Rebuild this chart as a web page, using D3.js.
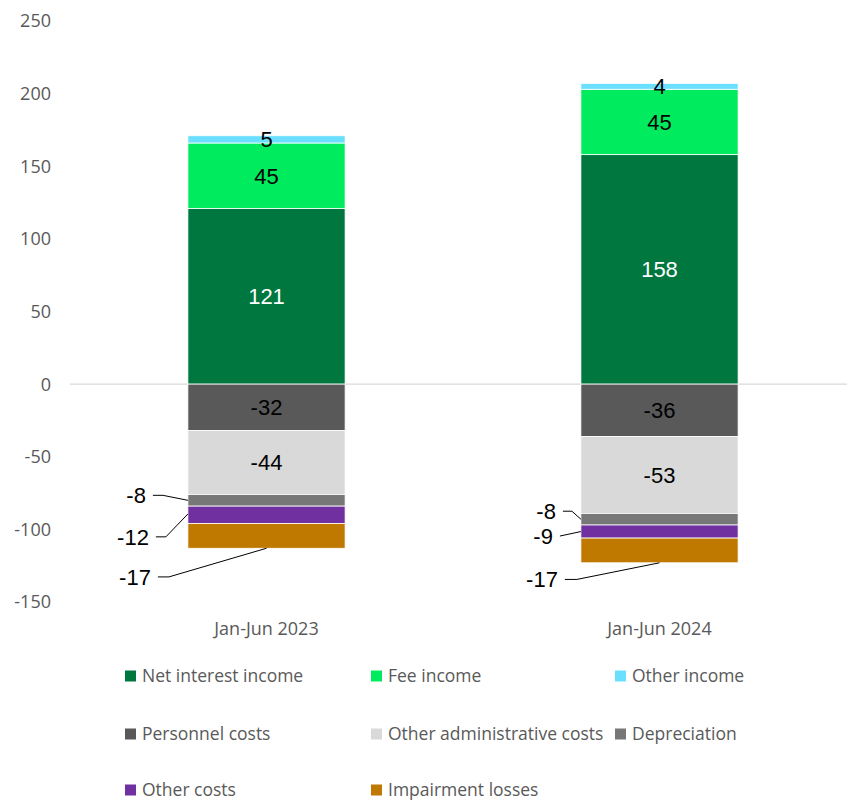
<!DOCTYPE html>
<html>
<head>
<meta charset="utf-8">
<script src="https://cdn.jsdelivr.net/npm/d3@7"></script>
<style>
  html, body { margin: 0; padding: 0; background: #fff; }
  svg { display: block; }
</style>
</head>
<body>
<svg id="chart" width="847" height="801"></svg>
<script>
// Half-year income and cost breakdown (stacked columns)
const periods = ["Jan-Jun 2023", "Jan-Jun 2024"];
const seriesNames = [
  "Net interest income", "Fee income", "Other income",
  "Personnel costs", "Other administrative costs", "Depreciation",
  "Other costs", "Impairment losses"
];
const netInterestIncome = [121, 158];
const feeIncome = [45, 45];
const otherIncome = [5, 4];
const personnelCosts = [-32, -36];
const otherAdminCosts = [-44, -53];
const depreciation = [-8, -8];
const otherCosts = [-12, -9];
const impairmentLosses = [-17, -17];
const yTicks = [250, 200, 150, 100, 50, 0, -50, -100, -150];

const colors = ["#00773F", "#00EB5E", "#6ADFFF", "#595959", "#D9D9D9", "#777777", "#7030A0", "#BF7800"];
const seriesValues = [netInterestIncome, feeIncome, otherIncome, personnelCosts,
  otherAdminCosts, depreciation, otherCosts, impairmentLosses];

const svg = d3.select("#chart");
const labelFont = "'Open Sans', 'Liberation Sans', Arial, sans-serif";
const valueFont = "'Liberation Sans', Arial, sans-serif";

const y = d3.scaleLinear().domain([-150, 250]).range([602, 21]);
const x = d3.scaleBand().domain(periods).range([70, 856]).paddingInner(0.6).paddingOuter(0.3);

// Stack positives upward and negatives downward from zero
const segments = [];
periods.forEach((p, i) => {
  let pos = 0, neg = 0;
  seriesValues.forEach((vals, s) => {
    const v = vals[i];
    let y0, y1;
    if (v >= 0) { y0 = pos; y1 = pos + v; pos = y1; }
    else { y0 = neg; y1 = neg + v; neg = y1; }
    segments.push({ period: p, pi: i, s, v, y0, y1 });
  });
});

// Zero line
svg.append("line")
  .attr("x1", 70).attr("x2", 847)
  .attr("y1", y(0)).attr("y2", y(0))
  .attr("stroke", "#D9D9D9").attr("stroke-width", 1.3);

// Y axis tick labels
svg.append("g").selectAll("text").data(yTicks).join("text")
  .attr("x", 51).attr("y", d => y(d))
  .attr("dy", "0.36em")
  .attr("text-anchor", "end")
  .attr("font-family", labelFont)
  .attr("font-size", 18)
  .attr("fill", "#595959")
  .text(d => d);

// Bars
svg.append("g").selectAll("rect").data(segments).join("rect")
  .attr("x", d => x(d.period))
  .attr("width", x.bandwidth())
  .attr("y", d => y(Math.max(d.y0, d.y1)))
  .attr("height", d => Math.abs(y(d.y0) - y(d.y1)))
  .attr("fill", d => colors[d.s])
  .attr("stroke", "#fff").attr("stroke-width", 0.8);

// Category labels
svg.append("g").selectAll("text").data(periods).join("text")
  .attr("x", d => x(d) + x.bandwidth() / 2)
  .attr("y", 629)
  .attr("dy", "0.36em")
  .attr("text-anchor", "middle")
  .attr("font-family", labelFont)
  .attr("font-size", 18)
  .attr("fill", "#595959")
  .text(d => d);

// Value labels inside the larger segments
const inside = segments.filter(d => d.s <= 4);
svg.append("g").selectAll("text").data(inside).join("text")
  .attr("x", d => x(d.period) + x.bandwidth() / 2)
  .attr("y", d => y((d.y0 + d.y1) / 2))
  .attr("dy", "0.36em")
  .attr("text-anchor", "middle")
  .attr("font-family", valueFont)
  .attr("font-size", 22)
  .attr("fill", d => d.s === 0 ? "#fff" : "#000")
  .text(d => d.v);

// Callout labels for the thin cost segments, with leader lines
// lx: line start relative to bar left, ly: label offset from segment middle,
// elbow: horizontal run, ax/ay: anchor point as fractions of the segment
const callouts = [
  { pi: 0, s: 5, lx: -35, ly: -5, elbow: 10, ax: 0, ay: 0.5 },
  { pi: 0, s: 6, lx: -32, ly: 22, elbow: 10, ax: 0, ay: 0.45 },
  { pi: 0, s: 7, lx: -30, ly: 41, elbow: 11, ax: 0.5, ay: 1 },
  { pi: 1, s: 5, lx: -18, ly: -8, elbow: 9, ax: 0, ay: 0.5 },
  { pi: 1, s: 6, lx: -21, ly: 4.5, elbow: 0, ax: 0, ay: 0.5 },
  { pi: 1, s: 7, lx: -16, ly: 29, elbow: 12, ax: 0.5, ay: 1 }
];
const gCall = svg.append("g");
callouts.forEach(c => {
  const seg = segments.find(d => d.pi === c.pi && d.s === c.s);
  const bx = x(seg.period);
  const top = y(seg.y0), bot = y(seg.y1);
  const axp = bx + c.ax * x.bandwidth();
  const ayp = top + c.ay * (bot - top);
  const ly = (top + bot) / 2 + c.ly;
  const lx = bx + c.lx;
  gCall.append("path")
    .attr("d", `M${lx},${ly} H${lx + c.elbow} L${axp},${ayp}`)
    .attr("fill", "none").attr("stroke", "#000").attr("stroke-width", 1);
  gCall.append("text")
    .attr("x", lx - 7).attr("y", ly)
    .attr("dy", "0.36em")
    .attr("text-anchor", "end")
    .attr("font-family", valueFont)
    .attr("font-size", 22)
    .attr("fill", "#000")
    .text(seg.v);
});

// Legend in three columns
const legendCols = [125, 371, 615];
const legendRows = [676, 734, 790];
const legend = svg.append("g").selectAll("g").data(seriesNames).join("g")
  .attr("transform", (d, i) => `translate(${legendCols[i % 3]},${legendRows[Math.floor(i / 3)]})`);
legend.append("rect")
  .attr("x", 0).attr("y", -5.5).attr("width", 11).attr("height", 11)
  .attr("fill", (d, i) => colors[i]);
legend.append("text")
  .attr("x", 17).attr("y", 0).attr("dy", "0.36em")
  .attr("font-family", labelFont)
  .attr("font-size", 17.5)
  .attr("fill", "#595959")
  .text(d => d);
</script>
</body>
</html>
